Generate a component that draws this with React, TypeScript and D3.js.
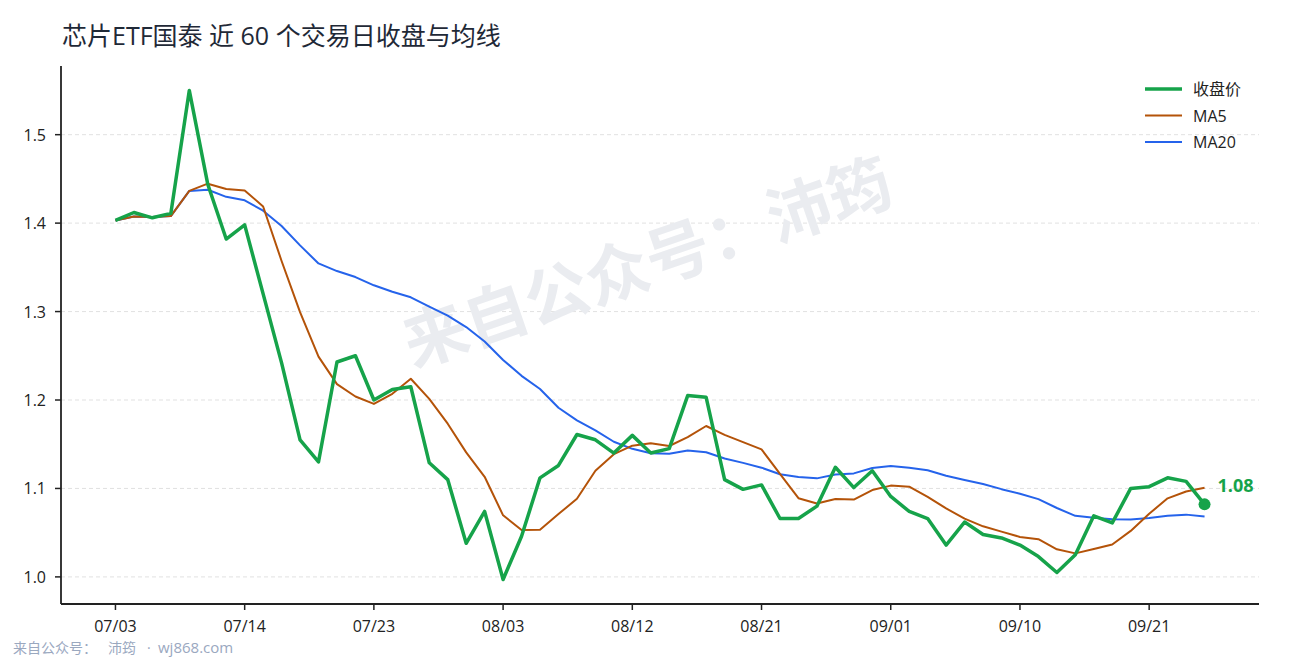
import React from "react";
import * as d3 from "d3";

const tickLabels = ["07/03", "07/14", "07/23", "08/03", "08/12", "08/21", "09/01", "09/10", "09/21"];
const tickIndex = [0, 7, 14, 21, 28, 35, 42, 49, 56];

const closeValues = [
  1.403, 1.412, 1.406, 1.411, 1.550, 1.444, 1.382, 1.398, 1.320, 1.242,
  1.155, 1.130, 1.243, 1.250, 1.200, 1.212, 1.215, 1.129, 1.110, 1.038,
  1.074, 0.997, 1.046, 1.112, 1.126, 1.161, 1.155, 1.140, 1.160, 1.140,
  1.145, 1.205, 1.203, 1.110, 1.099, 1.104, 1.066, 1.066, 1.080, 1.124,
  1.101, 1.120, 1.091, 1.074, 1.066, 1.036, 1.062, 1.048, 1.044, 1.036,
  1.023, 1.005, 1.025, 1.069, 1.061, 1.100, 1.102, 1.112, 1.108, 1.082,
];

const ma5Values = [
  1.403, 1.4075, 1.407, 1.408, 1.4364, 1.4446, 1.4386, 1.437, 1.4188, 1.3572,
  1.2994, 1.249, 1.218, 1.204, 1.1956, 1.207, 1.224, 1.2012, 1.1732, 1.1408,
  1.1132, 1.0696, 1.053, 1.0534, 1.071, 1.0884, 1.12, 1.1388, 1.1484, 1.1512,
  1.148, 1.158, 1.1706, 1.1606, 1.1524, 1.1442, 1.1164, 1.089, 1.083, 1.088,
  1.0874, 1.0982, 1.1032, 1.102, 1.0904, 1.0774, 1.0658, 1.0572, 1.0512, 1.0452,
  1.0426, 1.0312, 1.0266, 1.0316, 1.0366, 1.052, 1.0714, 1.0888, 1.0966, 1.1008,
];

const ma20Values = [
  1.403, 1.4075, 1.407, 1.408, 1.4364, 1.4377, 1.4297, 1.4258, 1.414, 1.3968,
  1.3748, 1.3544, 1.3458, 1.339, 1.3297, 1.3224, 1.3161, 1.3057, 1.2954, 1.2825,
  1.2661, 1.2453, 1.2273, 1.2124, 1.1912, 1.177, 1.1657, 1.1528, 1.1448, 1.1397,
  1.1392, 1.1429, 1.1409, 1.1339, 1.1289, 1.1235, 1.116, 1.1129, 1.1114, 1.1157,
  1.117, 1.1232, 1.1254, 1.1235, 1.1205, 1.1143, 1.1096, 1.105, 1.0992, 1.094,
  1.0879, 1.0779, 1.069, 1.067, 1.0651, 1.0649, 1.0667, 1.069, 1.0704, 1.0683,
];

const yTicks = [1.0, 1.1, 1.2, 1.3, 1.4, 1.5];

const seriesNames = ["收盘价", "MA5", "MA20"];
const seriesColors = ["#16a34a", "#b45309", "#2563eb"];
const seriesWidths = [3.5, 2, 2];

const W = 1290;
const H = 660;
const FONT = "'Open Sans', 'Noto Sans CJK SC', sans-serif";

export default function App() {
  const left = 61, right = 1259, top = 66, bottom = 604;
  const n = closeValues.length;
  const xPad = (n - 1) * 0.05;
  const x = d3.scaleLinear().domain([-xPad, n - 1 + xPad]).range([left, right]);
  const all = closeValues.concat(ma5Values, ma20Values);
  const vmin = d3.min(all) as number;
  const vmax = d3.max(all) as number;
  const yPad = (vmax - vmin) * 0.05;
  const y = d3.scaleLinear().domain([vmin - yPad, vmax + yPad]).range([bottom, top]);

  const line = d3
    .line<number>()
    .x((_, i) => x(i))
    .y((d) => y(d));

  const series = [closeValues, ma5Values, ma20Values];
  const lastI = n - 1;
  const lastV = closeValues[lastI];

  return (
    <div style={{ position: "fixed", left: 0, top: 0, width: W, height: H, background: "#fff" }}>
      <svg width={W} height={H} style={{ display: "block", fontFamily: FONT }}>
        <rect x={0} y={0} width={W} height={H} fill="#ffffff" />
        <text x={62} y={45} fontSize={25} fill="#1f2937" fontFamily={FONT}>
          芯片ETF国泰 近 60 个交易日收盘与均线
        </text>

        {/* grid */}
        {yTicks.map((t) => (
          <line
            key={"g" + t}
            x1={left}
            x2={right}
            y1={y(t)}
            y2={y(t)}
            stroke="#d9d9d9"
            strokeWidth={0.8}
            strokeDasharray="4 3"
          />
        ))}

        {/* watermark */}
        <text
          x={646}
          y={258}
          fontSize={64}
          fontWeight={700}
          fill="#eaecf0"
          textAnchor="middle"
          dominantBaseline="central"
          transform="rotate(-19 646 258)"
          fontFamily="'Noto Sans CJK SC', sans-serif"
        >
          来自公众号：沛筠
        </text>

        {/* lines: draw MA20, MA5, close */}
        {[2, 1, 0].map((k) => (
          <path
            key={"s" + k}
            d={line(series[k]) || ""}
            fill="none"
            stroke={seriesColors[k]}
            strokeWidth={seriesWidths[k]}
            strokeLinejoin="round"
            strokeLinecap="butt"
          />
        ))}

        <circle cx={x(lastI)} cy={y(lastV)} r={6} fill={seriesColors[0]} />
        <text
          x={x(lastI) + 13}
          y={y(lastV) - 12}
          fontSize={18}
          fontWeight={700}
          fill={seriesColors[0]}
          fontFamily={FONT}
        >
          {lastV.toFixed(2)}
        </text>

        {/* axes */}
        <line x1={left} x2={left} y1={top} y2={bottom} stroke="#222" strokeWidth={1.8} />
        <line x1={left} x2={right} y1={bottom} y2={bottom} stroke="#222" strokeWidth={1.8} />
        {yTicks.map((t) => (
          <g key={"yt" + t}>
            <line x1={left - 6} x2={left} y1={y(t)} y2={y(t)} stroke="#222" strokeWidth={1.5} />
            <text
              x={left - 15}
              y={y(t)}
              fontSize={16}
              fill="#222"
              textAnchor="end"
              dominantBaseline="central"
              fontFamily={FONT}
            >
              {t.toFixed(1)}
            </text>
          </g>
        ))}
        {tickIndex.map((ti, j) => (
          <g key={"xt" + ti}>
            <line x1={x(ti)} x2={x(ti)} y1={bottom} y2={bottom + 6} stroke="#222" strokeWidth={1.5} />
            <text
              x={x(ti)}
              y={bottom + 22}
              fontSize={16}
              fill="#222"
              textAnchor="middle"
              dominantBaseline="central"
              fontFamily={FONT}
            >
              {tickLabels[j]}
            </text>
          </g>
        ))}

        {/* legend */}
        {seriesNames.map((name, k) => (
          <g key={"lg" + k}>
            <line
              x1={1145}
              x2={1182}
              y1={89 + k * 26.5}
              y2={89 + k * 26.5}
              stroke={seriesColors[k]}
              strokeWidth={seriesWidths[k]}
            />
            <text
              x={1193}
              y={89 + k * 26.5}
              fontSize={16}
              fill="#222"
              dominantBaseline="central"
              fontFamily={FONT}
            >
              {name}
            </text>
          </g>
        ))}

        {/* footer */}
        <text y={653} fontSize={14} fill="#9aa8bf" fontFamily={FONT}>
          <tspan x={13}>来自公众号：</tspan>
          <tspan x={108}>沛筠</tspan>
          <tspan x={147}>·</tspan>
          <tspan x={158} fontSize={15}>wj868.com</tspan>
        </text>
      </svg>
    </div>
  );
}
